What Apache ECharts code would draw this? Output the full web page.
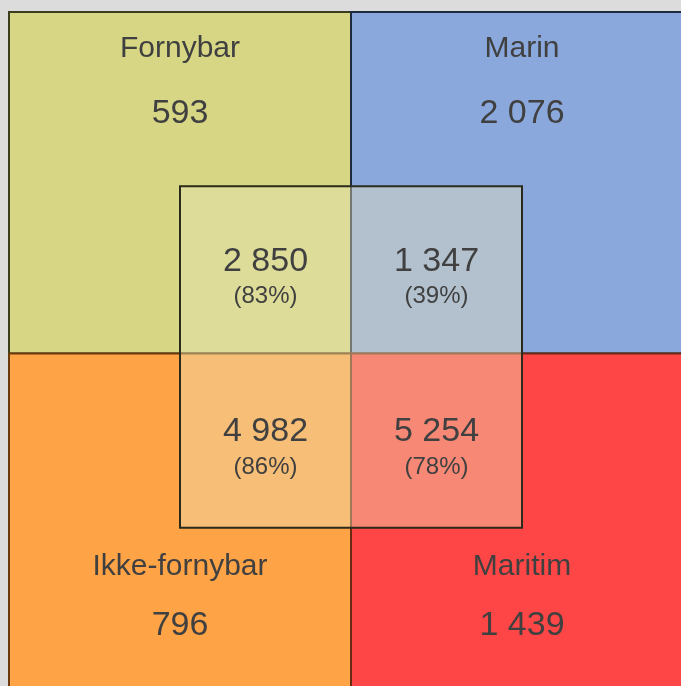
<!DOCTYPE html>
<html>
<head>
<meta charset="utf-8">
<script src="https://cdn.jsdelivr.net/npm/echarts@6/dist/echarts.min.js"></script>
<style>
  html, body { margin: 0; padding: 0; background: #dcdcdc; }
  #chart { width: 681px; height: 686px; }
</style>
</head>
<body>
<div id="chart"></div>
<script>
// fire kategorier, én per kvadrant (øverst venstre, øverst høyre, nederst venstre, nederst høyre)
const categories = ['Fornybar', 'Marin', 'Ikke-fornybar', 'Maritim'];
const totals = [593, 2076, 796, 1439];
// overlapp i midtfeltet, samme rekkefølge
const overlapValues = [2850, 1347, 4982, 5254];
const overlapShares = [83, 39, 86, 78];

const fills = ['#d6d684', '#8aa8dc', '#ffa347', '#ff4646'];
const edges = ['#3c3c1e', '#1e2a40', '#6b3a0c', '#6b2a12'];
const textColor = '#404040';
const font = '"Liberation Sans", Arial, sans-serif';

// tekstplassering i akseenheter: [øvre rad, nedre rad]
const labelY = [0.892, -0.625];
const valueY = [0.703, -0.798];
const inner = { x0: -0.5, x1: 0.5, y0: -0.51, y1: 0.49 };

function fmt(v) {
  return String(v).replace(/\B(?=(\d{3})+(?!\d))/g, ' ');
}

const chart = echarts.init(document.getElementById('chart'));

function renderQuadrant(params, api) {
  const i = api.value(0);
  const col = i % 2, row = Math.floor(i / 2);
  const x0 = col === 0 ? -1 : 0, x1 = x0 + 1;
  const y1 = row === 0 ? 1 : 0, y0 = y1 - 1;
  const p0 = api.coord([x0, y1]);
  const p1 = api.coord([x1, y0]);
  const cx = api.coord([(x0 + x1) / 2, 0])[0];
  return {
    type: 'group',
    children: [
      {
        type: 'rect',
        shape: { x: p0[0], y: p0[1], width: p1[0] - p0[0], height: p1[1] - p0[1] },
        style: { fill: fills[i], stroke: edges[i], lineWidth: 2 }
      },
      {
        type: 'text',
        style: {
          x: cx, y: api.coord([0, labelY[row]])[1],
          text: categories[i], fill: textColor,
          font: '30px ' + font, align: 'center', verticalAlign: 'middle'
        }
      },
      {
        type: 'text',
        style: {
          x: cx, y: api.coord([0, valueY[row]])[1],
          text: fmt(totals[i]), fill: textColor,
          font: '34px ' + font, align: 'center', verticalAlign: 'middle'
        }
      }
    ]
  };
}

function renderOverlap(params, api) {
  const i = api.value(0);
  const col = i % 2, row = Math.floor(i / 2);
  const cx0 = col === 0 ? inner.x0 : 0, cx1 = col === 0 ? 0 : inner.x1;
  const cy1 = row === 0 ? inner.y1 : 0, cy0 = row === 0 ? 0 : inner.y0;
  const c = api.coord([(cx0 + cx1) / 2, (cy0 + cy1) / 2]);
  const children = [];
  if (i === 0) {
    const a = api.coord([inner.x0, inner.y1]);
    const b = api.coord([inner.x1, inner.y0]);
    children.push({
      type: 'rect',
      shape: { x: a[0], y: a[1], width: b[0] - a[0], height: b[1] - a[1] },
      style: { fill: 'rgba(233,228,184,0.42)', stroke: '#2b2b1c', lineWidth: 2 }
    });
  }
  children.push({
    type: 'text',
    style: {
      x: c[0], y: c[1] - 8.5,
      text: fmt(overlapValues[i]), fill: textColor,
      font: '34px ' + font, align: 'center', verticalAlign: 'middle'
    }
  });
  children.push({
    type: 'text',
    style: {
      x: c[0], y: c[1] + 27,
      text: '(' + overlapShares[i] + '%)', fill: textColor,
      font: '24px ' + font, align: 'center', verticalAlign: 'middle'
    }
  });
  return { type: 'group', children: children };
}

chart.setOption({
  backgroundColor: '#dcdcdc',
  animation: false,
  // aksene dekker bare det synlige utsnittet; kvadrantene fortsetter utenfor
  grid: { left: 9, top: 12, right: 0, bottom: 0, outerBoundsMode: 'none' },
  xAxis: { type: 'value', min: -1, max: 672 / 342 - 1, show: false },
  yAxis: { type: 'value', min: 1 - 674 / 341.5, max: 1, show: false },
  series: [
    {
      type: 'custom',
      renderItem: renderQuadrant,
      data: categories.map((c, i) => [i]),
      silent: true
    },
    {
      type: 'custom',
      renderItem: renderOverlap,
      data: overlapValues.map((v, i) => [i]),
      silent: true,
      z: 3
    }
  ]
});
</script>
</body>
</html>
